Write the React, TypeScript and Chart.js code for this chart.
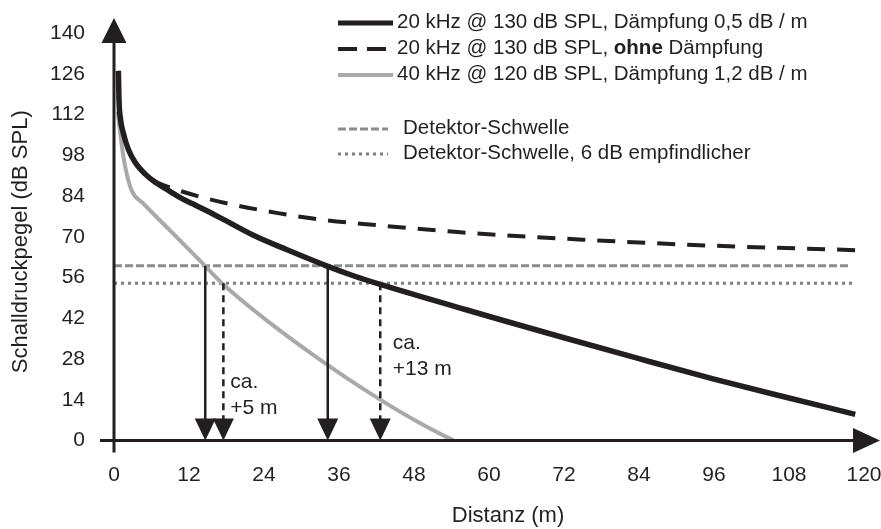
import { useEffect, useRef } from "react";
import { Chart, registerables } from "chart.js";

Chart.register(...registerables);

// ---------- data ----------
const dampedDist = [0.7, 0.8, 1.0, 1.5, 2.3, 3.4, 5.0, 6.6, 8.2, 10.3, 12.4, 14.6, 17.2, 22.3, 27.6, 34.0, 38.3, 42.6, 49, 55.4, 62, 72, 84, 96, 108, 118.6];
const dampedSPL = [127, 117, 111, 105.5, 100, 95.5, 91.5, 88.7, 86.6, 83.8, 81.5, 79.2, 76.3, 70.5, 65.6, 60, 56.6, 53.6, 49.5, 45.5, 41.4, 35.3, 28.1, 21.1, 14.6, 9];

const undampedDist = [0.7, 0.8, 1.0, 1.5, 2.3, 3.4, 5.0, 6.6, 8.2, 12.5, 18, 26, 33, 42, 55, 75, 95, 118.6];
const undampedSPL = [127, 117, 111, 105.5, 100, 95.5, 91.5, 89, 87.5, 84.5, 81.5, 78.2, 75.9, 74, 71.6, 69, 67, 65.4];

const hfDist = [0.6, 1.2, 1.8, 2.8, 4.6, 9, 14.6, 17.5, 25, 33, 41, 49, 54.3];
const hfSPL = [113, 102, 94, 86, 81.6, 72.1, 59.9, 53.6, 40.3, 27.7, 16.2, 5.9, 0];

const thresholdDist = [0, 117.8];
const thresholdSPL = [60, 60];
const sensitiveDist = [0, 118.6];
const sensitiveSPL = [54, 54];

const arrowDist = [14.6, 17.5, 34.2, 42.6];
const arrowSPL = [60, 54, 60, 54];
const arrowDashed = [false, true, false, true];

const noteLines = [["ca.", "+5 m"], ["ca.", "+13 m"]];
const noteDist = [18.6, 44.6];
const noteSPL = [18.0, 31.4];

const legendLabels = [
  "20 kHz @ 130 dB SPL, Dämpfung 0,5 dB / m",
  "20 kHz @ 130 dB SPL, |ohne| Dämpfung",
  "40 kHz @ 120 dB SPL, Dämpfung 1,2 dB / m",
  "Detektor-Schwelle",
  "Detektor-Schwelle, 6 dB empfindlicher",
];

const xTitle = "Distanz (m)";
const yTitle = "Schalldruckpegel (dB SPL)";
const xMax = 120;
const xStep = 12;
const yMax = 140;
const yStep = 14;

// ---------- styles ----------
const FONT = '"Liberation Sans", Arial, Helvetica, sans-serif';
const INK = "#231f20";
const LIGHT = "#a7a9ac";
const TH_GRAY = "#8a8c8e";
const DOT_GRAY = "#7d7f81";

const zip = (xs: number[], ys: number[]) => xs.map((x, i) => ({ x, y: ys[i] }));

const decorPlugin = {
  id: "decor",
  afterDatasetsDraw(chart: any) {
    const { ctx, chartArea, scales } = chart;
    const xs = scales.x;
    const ys = scales.y;
    const x0 = xs.getPixelForValue(0);
    const y0 = ys.getPixelForValue(0);
    ctx.save();
    // annotation arrows
    arrowDist.forEach((d, i) => {
      const px = xs.getPixelForValue(d);
      const top = ys.getPixelForValue(arrowSPL[i]);
      ctx.strokeStyle = INK;
      ctx.lineWidth = 2.5;
      ctx.setLineDash(arrowDashed[i] ? [7, 5] : []);
      ctx.beginPath();
      ctx.moveTo(px, top);
      ctx.lineTo(px, y0 - 20);
      ctx.stroke();
      ctx.setLineDash([]);
      ctx.fillStyle = INK;
      ctx.beginPath();
      ctx.moveTo(px - 10.5, y0 - 22);
      ctx.lineTo(px + 10.5, y0 - 22);
      ctx.lineTo(px, y0);
      ctx.closePath();
      ctx.fill();
    });
    // axes with arrow heads
    ctx.strokeStyle = INK;
    ctx.fillStyle = INK;
    ctx.lineWidth = 3;
    ctx.beginPath();
    ctx.moveTo(x0, y0 + 12);
    ctx.lineTo(x0, chartArea.top + 10);
    ctx.stroke();
    ctx.beginPath();
    ctx.moveTo(x0 - 12.5, chartArea.top + 10);
    ctx.lineTo(x0 + 12.5, chartArea.top + 10);
    ctx.lineTo(x0, chartArea.top - 15);
    ctx.closePath();
    ctx.fill();
    ctx.beginPath();
    ctx.moveTo(x0 - 14, y0);
    ctx.lineTo(chartArea.right - 11, y0);
    ctx.stroke();
    ctx.beginPath();
    ctx.moveTo(chartArea.right - 11, y0 - 12.5);
    ctx.lineTo(chartArea.right - 11, y0 + 12.5);
    ctx.lineTo(chartArea.right + 16, y0);
    ctx.closePath();
    ctx.fill();
    // notes
    ctx.font = `21px ${FONT}`;
    ctx.textAlign = "left";
    ctx.textBaseline = "alphabetic";
    ctx.fillStyle = INK;
    noteLines.forEach((lines, i) => {
      const px = xs.getPixelForValue(noteDist[i]);
      const py = ys.getPixelForValue(noteSPL[i]);
      lines.forEach((t, j) => ctx.fillText(t, px, py + j * 25.5));
    });
    // axis titles
    ctx.font = `22px ${FONT}`;
    ctx.textAlign = "center";
    ctx.textBaseline = "middle";
    ctx.fillText(xTitle, (chartArea.left + chartArea.right) / 2 + 19, 516);
    ctx.save();
    ctx.translate(21, (chartArea.top + chartArea.bottom) / 2 + 5);
    ctx.rotate(-Math.PI / 2);
    ctx.fillText(yTitle, 0, 0);
    ctx.restore();
    // legend
    const lx = 338;
    const rows = [22, 48, 74, 128, 153];
    const samples = [
      { color: INK, width: 5, dash: [] as number[], len: 55 },
      { color: INK, width: 4, dash: [19, 10], len: 48 },
      { color: LIGHT, width: 4, dash: [], len: 55 },
      { color: TH_GRAY, width: 3, dash: [8, 3], len: 50 },
      { color: DOT_GRAY, width: 3, dash: [3, 4], len: 50 },
    ];
    legendLabels.forEach((label, i) => {
      const s = samples[i];
      const yy = rows[i] + 1;
      ctx.strokeStyle = s.color;
      ctx.lineWidth = s.width;
      ctx.setLineDash(s.dash);
      ctx.beginPath();
      ctx.moveTo(lx, yy);
      ctx.lineTo(lx + s.len, yy);
      ctx.stroke();
      ctx.setLineDash([]);
      ctx.fillStyle = INK;
      ctx.textAlign = "left";
      ctx.textBaseline = "middle";
      let tx = i < 3 ? 397 : 403;
      label.split("|").forEach((part, k) => {
        ctx.font = `${k === 1 ? "bold " : ""}20.5px ${FONT}`;
        ctx.fillText(part, tx, rows[i]);
        tx += ctx.measureText(part).width;
      });
    });
    ctx.restore();
  },
};

export default function App() {
  const ref = useRef<HTMLCanvasElement | null>(null);
  useEffect(() => {
    if (!ref.current) return;
    const common = { pointRadius: 0, fill: false, cubicInterpolationMode: "monotone" as const };
    const chart = new Chart(ref.current, {
      type: "line",
      data: {
        datasets: [
          { ...common, data: zip(dampedDist, dampedSPL), borderColor: INK, borderWidth: 5.5 },
          { ...common, data: zip(undampedDist, undampedSPL), borderColor: INK, borderWidth: 4, borderDash: [18, 12] },
          { ...common, data: zip(hfDist, hfSPL), borderColor: LIGHT, borderWidth: 4 },
          { ...common, data: zip(thresholdDist, thresholdSPL), borderColor: TH_GRAY, borderWidth: 3, borderDash: [8, 3] },
          { ...common, data: zip(sensitiveDist, sensitiveSPL), borderColor: DOT_GRAY, borderWidth: 3, borderDash: [3, 4] },
        ],
      },
      options: {
        responsive: false,
        animation: false,
        devicePixelRatio: 1,
        layout: { padding: { left: 0, top: 33, right: 17, bottom: 0 } },
        plugins: { legend: { display: false }, tooltip: { enabled: false } },
        scales: {
          x: {
            type: "linear",
            min: 0,
            max: xMax,
            grid: { display: false },
            border: { display: false },
            ticks: { stepSize: xStep, padding: 14, color: INK, font: { family: FONT, size: 21 }, maxRotation: 0, autoSkip: false },
            afterFit: (s: any) => { s.height = 88.5; s.paddingLeft = 0; s.paddingRight = 0; },
          },
          y: {
            type: "linear",
            min: 0,
            max: yMax,
            grid: { display: false },
            border: { display: false },
            ticks: { stepSize: yStep, padding: 21, color: INK, font: { family: FONT, size: 21 }, autoSkip: false },
            afterFit: (s: any) => { s.width = 114; s.paddingTop = 0; s.paddingBottom = 0; },
          },
        },
      },
      plugins: [decorPlugin],
    });
    return () => chart.destroy();
  }, []);
  return (
    <div style={{ position: "absolute", left: 0, top: 0, width: 881, height: 529, background: "#fff" }}>
      <canvas ref={ref} width={881} height={529} style={{ display: "block" }} />
    </div>
  );
}
